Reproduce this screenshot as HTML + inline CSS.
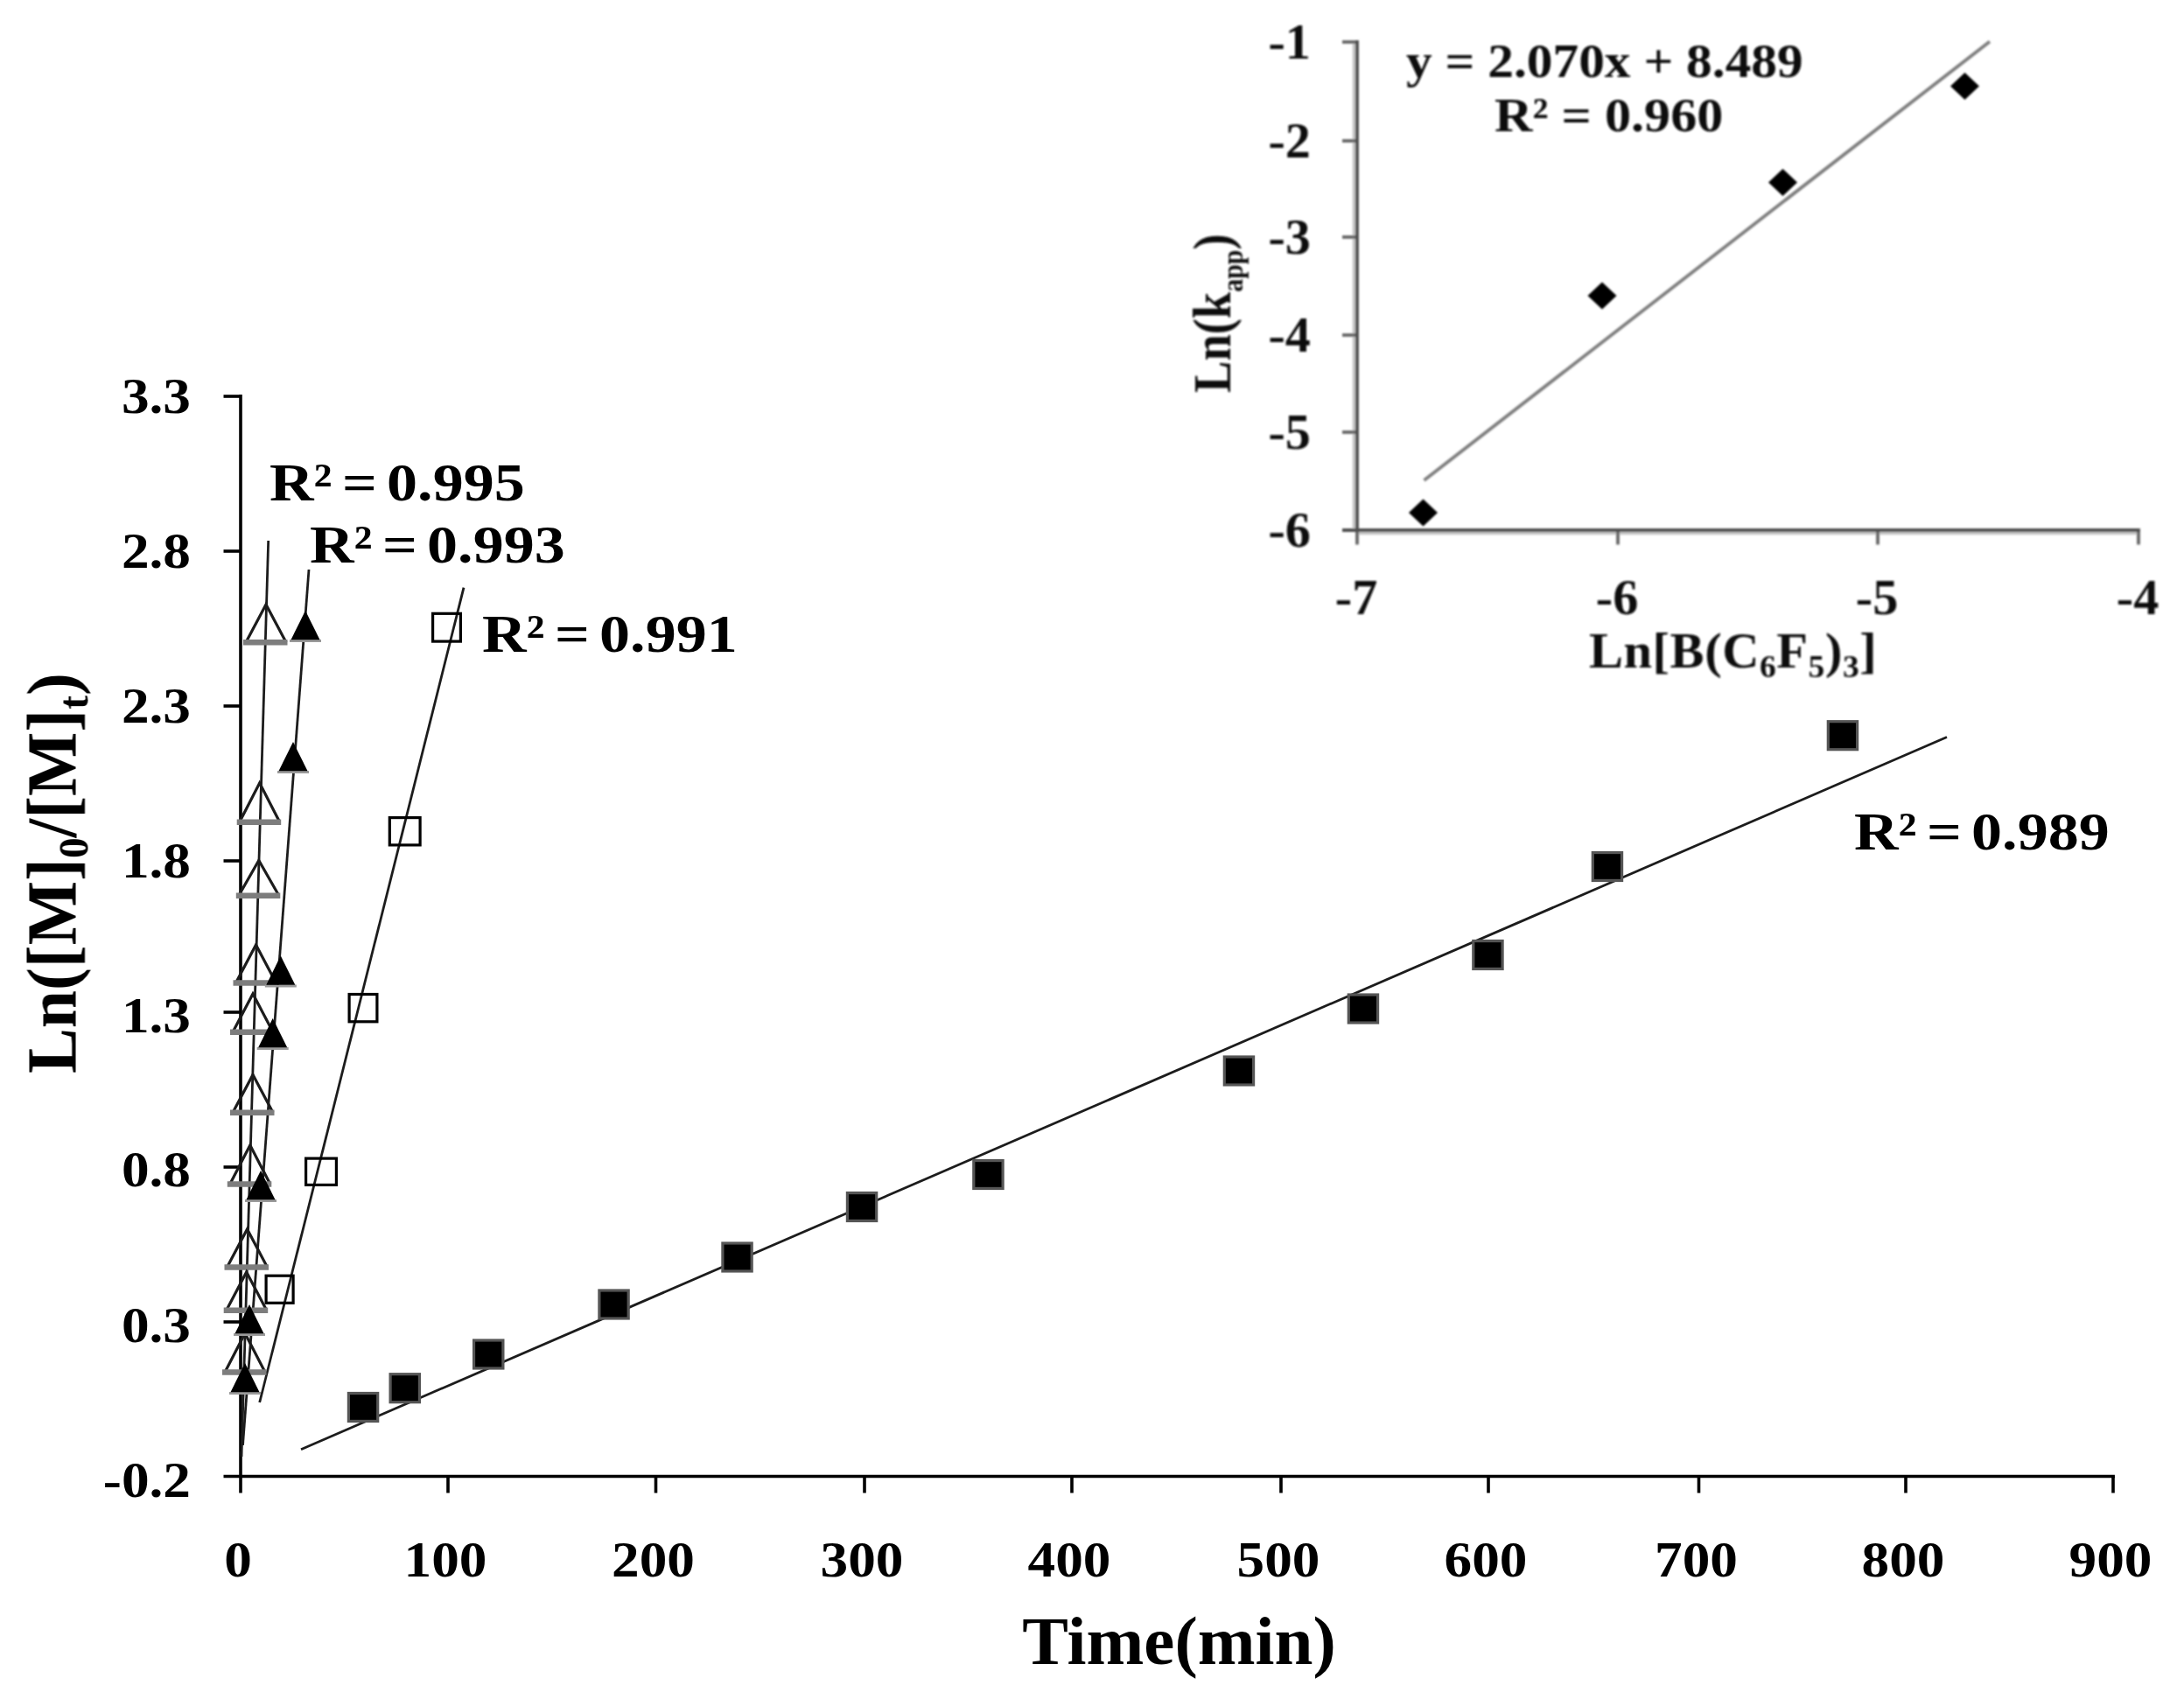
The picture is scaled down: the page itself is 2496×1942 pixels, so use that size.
<!DOCTYPE html>
<html lang="en">
<head>
<meta charset="utf-8">
<title>Kinetic plot</title>
<style>
html,body{margin:0;padding:0;background:#fff;}
body{width:2496px;height:1942px;overflow:hidden;}
svg{display:block;}
text{font-family:"Liberation Serif", "Times New Roman", serif;font-weight:bold;}
</style>
</head>
<body>
<svg width="2496" height="1942" viewBox="0 0 2496 1942">
<defs>
<filter id="b1" x="0" y="0" width="2496" height="1942" filterUnits="userSpaceOnUse"><feGaussianBlur stdDeviation="0.65"/></filter>
<filter id="b2" x="0" y="0" width="2496" height="1942" filterUnits="userSpaceOnUse"><feGaussianBlur stdDeviation="1.0"/></filter>
</defs>
<rect width="2496" height="1942" fill="#fff"/>
<g id="main" filter="url(#b1)">
<g stroke="#000" stroke-width="3.6" fill="none" stroke-linecap="butt">
<path d="M275.0 451.1 V1706.5"/>
<path d="M255.5 1687.5 H2416.9"/>
<path d="M512 1687.5 V1706.5"/>
<path d="M749.5 1687.5 V1706.5"/>
<path d="M988 1687.5 V1706.5"/>
<path d="M1225 1687.5 V1706.5"/>
<path d="M1464 1687.5 V1706.5"/>
<path d="M1701 1687.5 V1706.5"/>
<path d="M1941.5 1687.5 V1706.5"/>
<path d="M2178 1687.5 V1706.5"/>
<path d="M2415 1687.5 V1706.5"/>
<path d="M255.5 453 H275.0"/>
<path d="M255.5 630 H275.0"/>
<path d="M255.5 807 H275.0"/>
<path d="M255.5 984 H275.0"/>
<path d="M255.5 1157 H275.0"/>
<path d="M255.5 1334 H275.0"/>
<path d="M255.5 1511 H275.0"/>
</g>
<g stroke="#1e1e1e" stroke-width="2.8" fill="none">
<path d="M306.7 618 L276 1665"/>
<path d="M353 651 L277.5 1652"/>
<path d="M530 671.7 L296.7 1603"/>
<path d="M344 1656.7 L2225 842.5"/>
</g>
<path d="M281.0 734.3 L304.0 691.0 L327.0 734.3" fill="none" stroke="#1c1c1c" stroke-width="3.2" stroke-linejoin="miter"/>
<path d="M278.0 734.3 H328.5" stroke="#7d7d7d" stroke-width="6.4"/>
<path d="M273.7 939.8 L296.7 895.0 L319.7 939.8" fill="none" stroke="#1c1c1c" stroke-width="3.2" stroke-linejoin="miter"/>
<path d="M270.7 939.8 H321.2" stroke="#7d7d7d" stroke-width="6.4"/>
<path d="M272.8 1023.8 L295.8 983.5 L318.8 1023.8" fill="none" stroke="#1c1c1c" stroke-width="3.2" stroke-linejoin="miter"/>
<path d="M269.8 1023.8 H320.3" stroke="#7d7d7d" stroke-width="6.4"/>
<path d="M269.5 1123.5 L292.5 1080.0 L315.5 1123.5" fill="none" stroke="#1c1c1c" stroke-width="3.2" stroke-linejoin="miter"/>
<path d="M266.5 1123.5 H317.0" stroke="#7d7d7d" stroke-width="6.4"/>
<path d="M266.0 1179.8 L289.0 1136.0 L312.0 1179.8" fill="none" stroke="#1c1c1c" stroke-width="3.2" stroke-linejoin="miter"/>
<path d="M263.0 1179.8 H313.5" stroke="#7d7d7d" stroke-width="6.4"/>
<path d="M266.0 1271.8 L289.0 1228.5 L312.0 1271.8" fill="none" stroke="#1c1c1c" stroke-width="3.2" stroke-linejoin="miter"/>
<path d="M263.0 1271.8 H313.5" stroke="#7d7d7d" stroke-width="6.4"/>
<path d="M262.8 1353.5 L285.8 1309.0 L308.8 1353.5" fill="none" stroke="#1c1c1c" stroke-width="3.2" stroke-linejoin="miter"/>
<path d="M259.8 1353.5 H310.3" stroke="#7d7d7d" stroke-width="6.4"/>
<path d="M259.5 1448.5 L282.5 1405.0 L305.5 1448.5" fill="none" stroke="#1c1c1c" stroke-width="3.2" stroke-linejoin="miter"/>
<path d="M256.5 1448.5 H307.0" stroke="#7d7d7d" stroke-width="6.4"/>
<path d="M258.7 1497.8 L281.7 1454.0 L304.7 1497.8" fill="none" stroke="#1c1c1c" stroke-width="3.2" stroke-linejoin="miter"/>
<path d="M255.7 1497.8 H306.2" stroke="#7d7d7d" stroke-width="6.4"/>
<path d="M257.0 1568.5 L280.0 1524.0 L303.0 1568.5" fill="none" stroke="#1c1c1c" stroke-width="3.2" stroke-linejoin="miter"/>
<path d="M254.0 1568.5 H304.5" stroke="#7d7d7d" stroke-width="6.4"/>
<path d="M331.0 732.4 H367.0" stroke="#9a9a9a" stroke-width="3"/>
<path d="M332.5 731.2 L349.0 698.0 L365.5 731.2 Z" fill="#000"/>
<path d="M317.0 882.4 H353.0" stroke="#9a9a9a" stroke-width="3"/>
<path d="M318.5 881.2 L335.0 848.0 L351.5 881.2 Z" fill="#000"/>
<path d="M302.8 1126.9 H338.8" stroke="#9a9a9a" stroke-width="3"/>
<path d="M304.3 1125.7 L320.8 1092.5 L337.3 1125.7 Z" fill="#000"/>
<path d="M293.7 1198.4 H329.7" stroke="#9a9a9a" stroke-width="3"/>
<path d="M295.2 1197.2 L311.7 1164.0 L328.2 1197.2 Z" fill="#000"/>
<path d="M280.0 1372.4 H316.0" stroke="#9a9a9a" stroke-width="3"/>
<path d="M281.5 1371.2 L298.0 1338.0 L314.5 1371.2 Z" fill="#000"/>
<path d="M267.0 1525.4 H303.0" stroke="#9a9a9a" stroke-width="3"/>
<path d="M268.5 1524.2 L285.0 1491.0 L301.5 1524.2 Z" fill="#000"/>
<path d="M262.0 1592.4 H298.0" stroke="#9a9a9a" stroke-width="3"/>
<path d="M263.5 1591.2 L280.0 1558.0 L296.5 1591.2 Z" fill="#000"/>
<rect x="494.6" y="701.3" width="31.8" height="31.8" fill="none" stroke="#000" stroke-width="3.2"/>
<rect x="445.3" y="934.6" width="34.8" height="31.3" fill="none" stroke="#000" stroke-width="3.2"/>
<rect x="399.1" y="1136.5" width="31.8" height="31.3" fill="none" stroke="#000" stroke-width="3.2"/>
<rect x="349.6" y="1324.1" width="34.8" height="30.3" fill="none" stroke="#000" stroke-width="3.2"/>
<rect x="304.1" y="1458.2" width="31.0" height="31.1" fill="none" stroke="#000" stroke-width="3.2"/>
<rect x="398.4" y="1592.5" width="33.3" height="32" fill="#000" stroke="#555" stroke-width="3.2"/>
<rect x="446.1" y="1570.7" width="33.3" height="32" fill="#000" stroke="#555" stroke-width="3.2"/>
<rect x="541.6" y="1532.0" width="33.3" height="32" fill="#000" stroke="#555" stroke-width="3.2"/>
<rect x="684.9" y="1475.0" width="33.3" height="32" fill="#000" stroke="#555" stroke-width="3.2"/>
<rect x="825.9" y="1421.0" width="33.3" height="32" fill="#000" stroke="#555" stroke-width="3.2"/>
<rect x="968.4" y="1363.5" width="33.3" height="32" fill="#000" stroke="#555" stroke-width="3.2"/>
<rect x="1112.8" y="1326.5" width="33.3" height="32" fill="#000" stroke="#555" stroke-width="3.2"/>
<rect x="1399.3" y="1208.0" width="33.3" height="32" fill="#000" stroke="#555" stroke-width="3.2"/>
<rect x="1541.3" y="1137.0" width="33.3" height="32" fill="#000" stroke="#555" stroke-width="3.2"/>
<rect x="1683.8" y="1075.5" width="33.3" height="32" fill="#000" stroke="#555" stroke-width="3.2"/>
<rect x="1820.3" y="974.5" width="33.3" height="32" fill="#000" stroke="#555" stroke-width="3.2"/>
<rect x="2089.3" y="824.7" width="33.3" height="32" fill="#000" stroke="#555" stroke-width="3.2"/>
<text transform="translate(218.00,472.00) scale(1.13,1)" font-size="56" text-anchor="end" fill="#000" >3.3</text>
<text transform="translate(218.00,649.00) scale(1.13,1)" font-size="56" text-anchor="end" fill="#000" >2.8</text>
<text transform="translate(218.00,826.00) scale(1.13,1)" font-size="56" text-anchor="end" fill="#000" >2.3</text>
<text transform="translate(218.00,1003.00) scale(1.13,1)" font-size="56" text-anchor="end" fill="#000" >1.8</text>
<text transform="translate(218.00,1179.50) scale(1.13,1)" font-size="56" text-anchor="end" fill="#000" >1.3</text>
<text transform="translate(218.00,1356.00) scale(1.13,1)" font-size="56" text-anchor="end" fill="#000" >0.8</text>
<text transform="translate(218.00,1534.00) scale(1.13,1)" font-size="56" text-anchor="end" fill="#000" >0.3</text>
<text transform="translate(218.00,1710.50) scale(1.13,1)" font-size="56" text-anchor="end" fill="#000" >-0.2</text>
<text transform="translate(272.00,1802.00) scale(1.13,1)" font-size="56" text-anchor="middle" fill="#000" >0</text>
<text transform="translate(509.00,1802.00) scale(1.13,1)" font-size="56" text-anchor="middle" fill="#000" >100</text>
<text transform="translate(746.50,1802.00) scale(1.13,1)" font-size="56" text-anchor="middle" fill="#000" >200</text>
<text transform="translate(985.00,1802.00) scale(1.13,1)" font-size="56" text-anchor="middle" fill="#000" >300</text>
<text transform="translate(1222.00,1802.00) scale(1.13,1)" font-size="56" text-anchor="middle" fill="#000" >400</text>
<text transform="translate(1461.00,1802.00) scale(1.13,1)" font-size="56" text-anchor="middle" fill="#000" >500</text>
<text transform="translate(1698.00,1802.00) scale(1.13,1)" font-size="56" text-anchor="middle" fill="#000" >600</text>
<text transform="translate(1938.50,1802.00) scale(1.13,1)" font-size="56" text-anchor="middle" fill="#000" >700</text>
<text transform="translate(2175.00,1802.00) scale(1.13,1)" font-size="56" text-anchor="middle" fill="#000" >800</text>
<text transform="translate(2412.00,1802.00) scale(1.13,1)" font-size="56" text-anchor="middle" fill="#000" >900</text>
<text transform="translate(1347.50,1902.00)" font-size="79" text-anchor="middle" fill="#000" >Time(min)</text>
<text transform="translate(86.50,1227.00) rotate(-90) scale(0.965,1)" font-size="80.5" text-anchor="start" fill="#000" >Ln([M]<tspan font-size="49" dy="14">0</tspan><tspan dy="-14">/[M]</tspan><tspan font-size="49" dy="14">t</tspan><tspan dy="-14">)</tspan></text>
<text transform="translate(308.00,572.00) scale(1.13,1)" font-size="62" text-anchor="start" fill="#000" word-spacing="-5.5">R² = 0.995</text>
<text transform="translate(354.00,643.00) scale(1.13,1)" font-size="62" text-anchor="start" fill="#000" word-spacing="-5.5">R² = 0.993</text>
<text transform="translate(551.00,745.00) scale(1.13,1)" font-size="62" text-anchor="start" fill="#000" word-spacing="-5.5">R² = 0.991</text>
<text transform="translate(2119.00,971.00) scale(1.13,1)" font-size="62" text-anchor="start" fill="#000" word-spacing="-5.5">R² = 0.989</text>
</g>
<g id="inset" filter="url(#b2)">
<path d="M1547.4 48 V606.0" stroke="#c4c4c4" stroke-width="3.4" fill="none"/>
<path d="M1551.0 609.5 H2442" stroke="#c4c4c4" stroke-width="3.4" fill="none"/>
<g stroke="#666" stroke-width="3.8" fill="none">
<path d="M1534 48 H1551.0"/>
<path d="M1534 161 H1551.0"/>
<path d="M1534 271 H1551.0"/>
<path d="M1534 383 H1551.0"/>
<path d="M1534 494 H1551.0"/>
<path d="M1534 606 H1551.0"/>
<path d="M1551 606.0 V622.5"/>
<path d="M1849 606.0 V622.5"/>
<path d="M2146 606.0 V622.5"/>
<path d="M2444 606.0 V622.5"/>
</g>
<g stroke="#505050" stroke-width="3.9" fill="none"><path d="M1551.0 46.1 V607.9"/><path d="M1534 606.0 H2445.9"/></g>
<path d="M1627.5 549 L2274 47.5" stroke="#7e7e7e" stroke-width="3.8" fill="none"/>
<path d="M1610.0 586 L1626.5 570.5 L1643.0 586 L1626.5 601.5 Z" fill="#000"/>
<path d="M1814.5 338 L1831 322.5 L1847.5 338 L1831 353.5 Z" fill="#000"/>
<path d="M2021.0 208.5 L2037.5 193.0 L2054.0 208.5 L2037.5 224.0 Z" fill="#000"/>
<path d="M2229.0 98.5 L2245.5 83.0 L2262.0 98.5 L2245.5 114.0 Z" fill="#000"/>
<text transform="translate(1498.00,66.50) scale(1.04,1)" font-size="56" text-anchor="end" fill="#111" >-1</text>
<text transform="translate(1498.00,179.50) scale(1.04,1)" font-size="56" text-anchor="end" fill="#111" >-2</text>
<text transform="translate(1498.00,289.50) scale(1.04,1)" font-size="56" text-anchor="end" fill="#111" >-3</text>
<text transform="translate(1498.00,401.50) scale(1.04,1)" font-size="56" text-anchor="end" fill="#111" >-4</text>
<text transform="translate(1498.00,512.50) scale(1.04,1)" font-size="56" text-anchor="end" fill="#111" >-5</text>
<text transform="translate(1498.00,624.50) scale(1.04,1)" font-size="56" text-anchor="end" fill="#111" >-6</text>
<text transform="translate(1550.00,702.00) scale(1.04,1)" font-size="56" text-anchor="middle" fill="#111" >-7</text>
<text transform="translate(1848.00,702.00) scale(1.04,1)" font-size="56" text-anchor="middle" fill="#111" >-6</text>
<text transform="translate(2145.00,702.00) scale(1.04,1)" font-size="56" text-anchor="middle" fill="#111" >-5</text>
<text transform="translate(2443.00,702.00) scale(1.04,1)" font-size="56" text-anchor="middle" fill="#111" >-4</text>
<text transform="translate(1607.00,87.50) scale(1.08,1)" font-size="55" text-anchor="start" fill="#111" >y = 2.070x + 8.489</text>
<text transform="translate(1708.00,150.00) scale(1.095,1)" font-size="55" text-anchor="start" fill="#111" >R² = 0.960</text>
<text transform="translate(1816.00,762.50) scale(1.045,1)" font-size="56" text-anchor="start" fill="#111" letter-spacing="0.5">Ln[B(C<tspan font-size="36" dy="11">6</tspan><tspan dy="-11">F</tspan><tspan font-size="36" dy="11">5</tspan><tspan dy="-11">)</tspan><tspan font-size="36" dy="11">3</tspan><tspan dy="-11">]</tspan></text>
<text transform="translate(1406.00,449.00) rotate(-90) scale(0.88,1)" font-size="62" text-anchor="start" fill="#111" >Ln(k<tspan font-size="34" dy="14">app</tspan><tspan dy="-14">)</tspan></text>
</g>
</svg>
</body>
</html>
